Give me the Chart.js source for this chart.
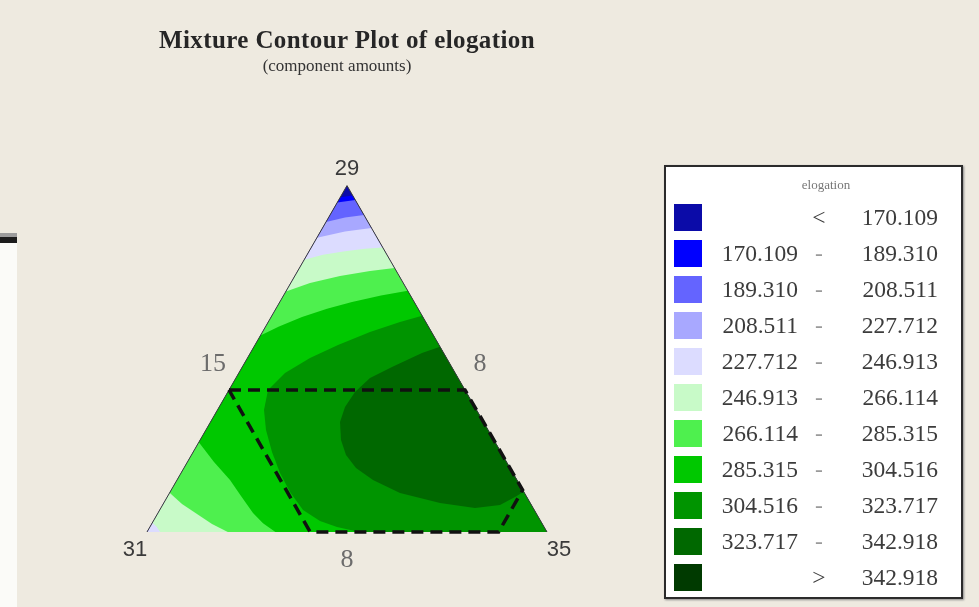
<!DOCTYPE html>
<html>
<head>
<meta charset="utf-8">
<title>Mixture Contour Plot of elogation</title>
<script src="https://cdn.jsdelivr.net/npm/chart.js@4.4.1/dist/chart.umd.min.js"></script>
<style>
 html, body { margin: 0; padding: 0; }
 body { width: 979px; height: 607px; background: #eeeae0; position: relative; overflow: hidden; font-family: "Liberation Serif", "DejaVu Serif", serif; }
 .strip { position: absolute; left: 0; top: 233px; width: 17px; height: 374px; background: #fbfbf8; }
 .strip-rule { position: absolute; left: 0; width: 17px; }
 #plot { position: absolute; left: 0; top: 0; }
 .title { position: absolute; left: 97px; width: 500px; top: 27px; line-height: 26px; text-align: center; font-size: 25px; letter-spacing: 0.4px; font-weight: bold; color: #262626; }
 .subtitle { position: absolute; left: 217px; width: 240px; top: 56px; line-height: 20px; text-align: center; font-size: 17px; color: #333; }
 .legend { position: absolute; left: 664px; top: 165px; width: 299px; height: 434px; box-sizing: border-box; background: #fff; border: 2px solid #2b2b2b; box-shadow: 1px 1px 2px #8a8a8a; color: #3c3c3c; }
 .legend .head { position: absolute; left: 110px; width: 100px; top: 11px; text-align: center; font-size: 13px; line-height: 14px; color: #777; }
 .legend .row { position: absolute; left: 0; width: 100%; height: 28px; font-size: 23.5px; line-height: 28px; }
 .legend .sw { position: absolute; left: 8px; top: 0.5px; width: 28px; height: 27px; }
 .legend .lo { position: absolute; left: 30px; width: 102px; text-align: right; }
 .legend .sep { position: absolute; left: 143px; width: 20px; text-align: center; color: #9a9a9a; }
 .legend .sep.cmp { color: #3c3c3c; }
 .legend .hi { position: absolute; left: 170px; width: 102px; text-align: right; }
</style>
</head>
<body>
<div class="strip">
 <div class="strip-rule" style="top:0;height:4px;background:#9c9c9c"></div>
 <div class="strip-rule" style="top:4px;height:6px;background:#1c1c1c"></div>
</div>
<canvas id="plot" width="979" height="607"></canvas>
<div class="title">Mixture Contour Plot of elogation</div>
<div class="subtitle">(component amounts)</div>
<div class="legend" id="legend"><div class="head">elogation</div></div>
<script>
// contour breaks for elogation
var levels = [170.109, 189.310, 208.511, 227.712, 246.913, 266.114, 285.315, 304.516, 323.717, 342.918];
// one colour per band, lowest band first
var bandColors = ["#0b0ba8", "#0000ff", "#6464ff", "#a8a8ff", "#dcdcff", "#c8fac8", "#4ef04e", "#00c800", "#009400", "#006800", "#003a00"];

// simplex corners in plot units (bottom-left, bottom-right, top)
var cornerX = [0, 100, 50];
var cornerY = [0, 0, 86.6];
var cornerNames = ["31", "35", "29"];
var sideNames = ["15", "8", "8"];

// area above each break; outlines may run past the triangle, they get clipped
var above170 = [[47.6, 83.6], [52.4, 84.3], [110, -5], [-10, -5]];
var above189 = [[47.0, 82.3], [52.8, 83.1], [110, -5], [-10, -5]];
var above208 = [[44.2, 77.4], [49.5, 78.6], [54.8, 79.3], [110, -5], [-10, -5]];
var above227 = [[41.6, 73.4], [49.5, 75.1], [56.9, 76.1], [110, -5], [-10, -5]];
var above246 = [[38.6, 67.9], [44.0, 69.3], [49.5, 70.2], [54.5, 70.8], [59.8, 71.2], [110, -5],
  [3.6, -5], [3.3, 0], [2.4, 1.3], [1.2, 2.4], [-5, 3]];
var above266 = [[34.0, 59.9], [40.75, 62.25], [48.25, 64.0], [55.75, 65.25], [62.6, 66.1], [110, -5],
  [20.4, -5], [20.2, 0], [16.25, 2.0], [12.5, 4.5], [8.75, 7.0], [5.3, 10.1], [-5, 5]];
var above285 = [[27.7, 48.8], [33.0, 51.4], [38.75, 53.75], [45.0, 55.8], [51.25, 57.5], [58.5, 59.1], [66.3, 60.5], [110, -5],
  [32.3, -5], [32.1, 0], [29.0, 2.2], [26.5, 4.75], [23.5, 9.0], [20.75, 13.0], [16.75, 17.5], [12.6, 22.9], [-5, 10]];
var above304 = [[69.5, 54.25], [63.25, 52.5], [55.75, 50.0], [47.75, 46.75], [40.75, 43.5], [34.5, 39.75], [30.25, 35.5],
  [29.25, 30.5], [29.75, 25.5], [31.25, 20.0], [33.25, 14.75], [35.75, 10.0], [39.0, 5.5], [43.25, 2.75],
  [47.5, 1.25], [52.0, 0.25], [55.75, -0.25], [56, -5], [110, -5]];
var above323 = [[73.8, 46.5], [68.75, 44.75], [61.25, 41.25], [55.75, 38.5], [52.0, 35.0], [49.5, 31.25], [48.25, 27.5],
  [48.5, 23.0], [49.75, 19.25], [52.25, 16.0], [56.5, 13.0], [63.25, 9.75], [73.25, 7.25], [82.0, 6.0],
  [88.25, 6.75], [92.0, 8.75], [94.6, 10.3], [110, 10]];
var aboveLevels = [above170, above189, above208, above227, above246, above266, above285, above304, above323];

// constraint region (dashed)
var limitX = [20.5, 79.5, 93.9, 87.9, 40.8, 20.5];
var limitY = [35.5, 35.5, 10.5, 0, 0, 35.5];

function sideOf(p, a, b) {
 return (b[0] - a[0]) * (p[1] - a[1]) - (b[1] - a[1]) * (p[0] - a[0]);
}

// Sutherland-Hodgman against the three triangle edges
function clipToTriangle(outline) {
 var pts = outline;
 for (var e = 0; e < 3; e++) {
  var a = [cornerX[e], cornerY[e]];
  var b = [cornerX[(e + 1) % 3], cornerY[(e + 1) % 3]];
  var src = pts;
  pts = [];
  for (var i = 0; i < src.length; i++) {
   var cur = src[i];
   var prev = src[(i + src.length - 1) % src.length];
   var dc = sideOf(cur, a, b), dp = sideOf(prev, a, b);
   if ((dc >= 0) !== (dp >= 0)) {
    var t = dp / (dp - dc);
    pts.push([prev[0] + t * (cur[0] - prev[0]), prev[1] + t * (cur[1] - prev[1])]);
   }
   if (dc >= 0) pts.push(cur);
  }
 }
 return pts;
}

function toPoints(list) {
 return list.map(function (p) { return { x: p[0], y: p[1] }; });
}

function bandSet(outline, color, order) {
 return {
  data: toPoints(outline),
  backgroundColor: color,
  borderColor: color,
  borderWidth: 0,
  fill: "shape",
  pointRadius: 0,
  tension: 0,
  order: order,
 };
}

var datasets = [];
var triangle = cornerX.map(function (x, i) { return [x, cornerY[i]]; });
datasets.push(bandSet(triangle, bandColors[0], 100));
aboveLevels.forEach(function (area, i) {
 datasets.push(bandSet(clipToTriangle(area), bandColors[i + 1], 99 - i));
});

// left and right sides of the simplex
datasets.push({
 data: toPoints([triangle[0], triangle[2], triangle[1]]),
 borderColor: "#3a3a3a",
 borderWidth: 1,
 fill: false,
 pointRadius: 0,
 clip: false,
 order: 1,
});

datasets.push({
 data: limitX.map(function (x, i) { return { x: x, y: limitY[i] }; }),
 borderColor: "#111",
 borderWidth: 3.5,
 borderDash: [12, 7],
 fill: false,
 pointRadius: 0,
 clip: false,
 order: 0,
});

var simplexLabels = {
 id: "simplexLabels",
 afterDraw: function (chart) {
  var ctx = chart.ctx;
  var xs = chart.scales.x;
  var ys = chart.scales.y;
  ctx.save();
  ctx.textAlign = "center";
  ctx.textBaseline = "middle";

  ctx.font = '22px "Liberation Sans", Arial, sans-serif';
  ctx.fillStyle = "#3a3a3a";
  var shift = [[-12, 18], [12, 18], [0, -17]];
  cornerNames.forEach(function (name, i) {
   ctx.fillText(name, xs.getPixelForValue(cornerX[i]) + shift[i][0], ys.getPixelForValue(cornerY[i]) + shift[i][1]);
  });

  ctx.font = '26px "Liberation Serif", serif';
  ctx.fillStyle = "#6c6c6c";
  var at = [[16.5, 42], [83.25, 42], [50, -7]];
  sideNames.forEach(function (name, i) {
   ctx.fillText(name, xs.getPixelForValue(at[i][0]), ys.getPixelForValue(at[i][1]));
  });
  ctx.restore();
 },
};

new Chart(document.getElementById("plot"), {
 type: "line",
 data: { datasets: datasets },
 options: {
  responsive: false,
  animation: false,
  events: [],
  layout: { padding: { left: 147, right: 432, top: 185.6, bottom: 75 } },
  scales: {
   x: { type: "linear", min: 0, max: 100, display: false },
   y: { type: "linear", min: 0, max: 86.6, display: false },
  },
  plugins: {
   legend: { display: false },
   tooltip: { enabled: false },
  },
 },
 plugins: [simplexLabels],
});

// legend box, one row per band
var legendBox = document.getElementById("legend");
bandColors.forEach(function (color, i) {
 var lo = "", sep = "-", hi = "", cmp = false;
 if (i === 0) { sep = "<"; hi = levels[0].toFixed(3); cmp = true; }
 else if (i === bandColors.length - 1) { sep = ">"; hi = levels[levels.length - 1].toFixed(3); cmp = true; }
 else { lo = levels[i - 1].toFixed(3); hi = levels[i].toFixed(3); }

 var row = document.createElement("div");
 row.className = "row";
 row.style.top = (36 + 36 * i) + "px";
 row.innerHTML =
  '<div class="sw" style="background:' + color + '"></div>' +
  '<span class="lo">' + lo + "</span>" +
  '<span class="sep' + (cmp ? " cmp" : "") + '">' + sep + "</span>" +
  '<span class="hi">' + hi + "</span>";
 legendBox.appendChild(row);
});
</script>
</body>
</html>
